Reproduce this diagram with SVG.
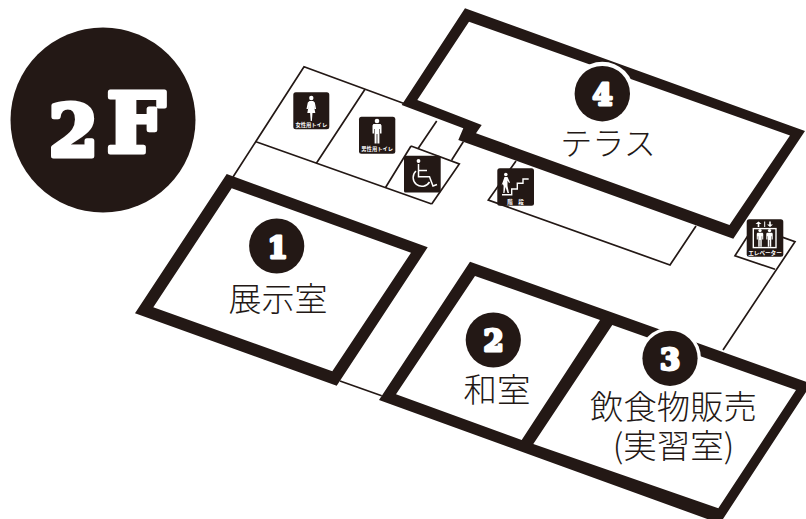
<svg xmlns="http://www.w3.org/2000/svg" width="806" height="519" viewBox="0 0 806 519">
<style>
.wall{fill:#231815;fill-rule:evenodd}
.thin{fill:none;stroke:#231815;stroke-width:1.7;stroke-linejoin:miter}
.badge{fill:#231815}
.halo{fill:#fff}
.num{font-family:"DejaVu Serif",serif;font-weight:700;font-size:29px;fill:#fff;stroke:#fff;stroke-width:2.8;stroke-linejoin:round;text-anchor:middle}
.fat{font-family:"DejaVu Serif",serif;font-weight:700;fill:#fff;stroke:#fff;stroke-width:5;stroke-linejoin:round;text-anchor:middle}
.jp{font-family:"Noto Sans CJK JP",sans-serif;font-weight:300;fill:#231815;text-anchor:middle}
.tiny{font-family:"Noto Sans CJK JP",sans-serif;font-weight:700;font-size:5.5px;fill:#fff;text-anchor:middle}
.icon{fill:#fff}
.iconline{fill:none;stroke:#fff;stroke-width:1.4}
</style>
<defs>
<g id="man"><circle cx="0" cy="-11" r="2.3"/><path d="M-3.6-8H3.6L4.5-6.5V1.5H3V-3H2.4V11.5H.4V2H-.4V11.5H-2.4V-3H-3V1.5H-4.5V-6.5Z"/></g>
<g id="woman"><circle cx="0" cy="-11" r="2.2"/><path d="M-1.8-8H1.8L3.5-6.5L4.8 0H3.4L2.6-3.5L4 4H1.2L.6 12H-.6L-1.2 4H-4L-2.6-3.5L-3.4 0H-4.8L-3.5-6.5Z"/></g>
</defs>
<g id="floor-badge"><circle class="badge" cx="103" cy="120" r="92.5"/>
<text class="fat" x="73.5" y="155.5" font-size="71">2</text><text class="fat" x="136" y="152" font-size="83">F</text></g>
<g id="connectors">
<path class="thin" d="M233 177L304 66.7L404 103.5M256 141.7L431.7 204M365 89.3L316.7 162.7M411 146L385.7 187.3M436.7 121L418.3 148.3M463.3 141.7L451.7 160M411 146L459.3 164L431.7 204"/>
<path class="thin" d="M516 161L488.3 200L670 265L696 226"/>
<path class="thin" d="M723 350L795 241.7L753.5 227L735 255.7L775 269.3"/>
<path class="thin" d="M340 381L381.7 395.7"/>
</g>
<g id="room-1"><path class="wall" d="M226.7 174L427.7 247.3L336.7 385.7L135 313.3ZM231.7 188.3L153.3 307.3L332.3 371.3L411 252.7Z"/>
<circle class="badge" cx="276.7" cy="246" r="27.6"/><text class="num" x="277.5" y="257.5">1</text>
<text class="jp" x="278" y="311" font-size="33">展示室</text></g>
<g id="room-2-3"><path class="wall" d="M470 261.7L811.5 383.6L720 523.6L379 400ZM475 276L396 394.3L521.7 440L600 320ZM612.3 325L533.3 444L718.3 508.3L796 390Z"/></g>
<g id="room-2"><circle class="badge" cx="493.3" cy="340" r="27.6"/><text class="num" x="493.5" y="351">2</text>
<text class="jp" x="497" y="402" font-size="33.5">和室</text></g>
<g id="room-3"><circle class="halo" cx="670" cy="358.3" r="31"/><circle class="badge" cx="670" cy="358.3" r="27.6"/><text class="num" x="670" y="369.5">3</text>
<text class="jp" x="673.5" y="419" font-size="33.4">飲食物販売</text><text class="jp" x="673.5" y="458" font-size="33.5">(実習室)</text></g>
<g id="room-4"><path class="wall" d="M465 8.3L805 131L733.3 238.7L458.3 140L463.3 128.3L401.7 105ZM469 21.7L417.3 100L481.7 125L476 133.3L729.5 225L790 135.4Z"/>
<circle class="halo" cx="602.3" cy="93.7" r="32"/><circle class="badge" cx="602.3" cy="93.7" r="27.7"/><text class="num" x="602.5" y="104.5">4</text>
<text class="jp" x="608" y="155" font-size="32">テラス</text></g>
<g id="women-toilet"><rect class="badge" x="293.3" y="92.3" width="36" height="37" rx="2.5"/><use href="#woman" x="311.3" y="109" class="icon"/><text class="tiny" x="311.3" y="127" style="font-size:5.3px">女性用トイレ</text></g>
<g id="men-toilet"><rect class="badge" x="359" y="116.7" width="36.3" height="37" rx="2.5"/><use href="#man" x="377" y="132" class="icon"/><text class="tiny" x="377.2" y="151" style="font-size:5.3px">男性用トイレ</text></g>
<g id="accessible-toilet"><rect class="badge" x="404" y="155.7" width="36.7" height="36.7" rx="1.5"/><circle class="icon" cx="418.5" cy="161" r="1.9"/><path class="iconline" d="M418.5 164V176.7H429.5L433 186L437 184.5M416 171A8.8 8.8 0 1 0 429.5 182M418.5 170.5H427" style="stroke-width:1.5"/></g>
<g id="stairs"><rect class="badge" x="497.3" y="168.3" width="36.7" height="37.4" rx="2.5"/><circle class="icon" cx="505.8" cy="174.5" r="1.8"/><path class="icon" d="M504.5 177H507.5L510 182.5L509 183L507.5 180.5V186L509 193H507.5L505.5 187L504.5 193H503.3L503.6 186L502.8 184L501.5 185.5Z"/><path class="iconline" d="M502 194.8H511.7V189H517.3V183.3H523V179H528.7"/><text class="tiny" x="515.5" y="204">階　段</text></g>
<g id="elevator"><rect class="badge" x="746.7" y="219.3" width="36.6" height="37.4" rx="2.5"/><rect class="iconline" x="753.3" y="228.6" width="22.7" height="19"/><path class="iconline" d="M764.7 221.5V227" style="stroke-width:1"/><path class="icon" d="M758.5 221.5L761.5 224H759.3V227H757.7V224H755.5ZM770 227L773 224.5H770.8V221.5H769.2V224.5H767Z"/><use href="#man" x="0" y="0" transform="translate(760 238.5) scale(.72)" class="icon"/><use href="#man" x="0" y="0" transform="translate(769.5 238.5) scale(.72)" class="icon"/><text class="tiny" x="765" y="254.5" style="font-size:5.6px">エレベーター</text></g>
</svg>
